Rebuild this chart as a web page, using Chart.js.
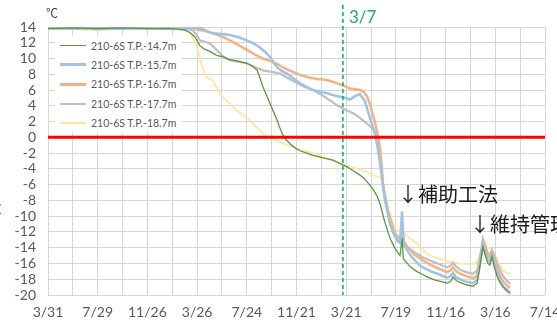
<!DOCTYPE html>
<html>
<head>
<meta charset="utf-8">
<script src="https://cdn.jsdelivr.net/npm/chart.js@4.4.0/dist/chart.umd.min.js"></script>
<style>
  body { margin: 0; background: #fff; }
  #wrap { position: relative; width: 557px; height: 325px; overflow: hidden; }
  #legend {
    position: absolute; left: 55px; top: 36px; width: 127px; height: 96px;
    background: #fff; font: 10.5px Lato, sans-serif; color: #595959;
  }
  #legend .row { display: flex; align-items: center; height: 19.3px; }
  #legend .swatch { width: 26px; margin: 0 5px 0 5px; }
</style>
</head>
<body>
<div id="wrap">
  <canvas id="chart" width="557" height="325"></canvas>
  <div id="legend"></div>
</div>
<script>
// x axis runs in days from 3/31; a label every 120 days, grid every 60
const xTickLabels = ['3/31', '7/29', '11/26', '3/26', '7/24', '11/21', '3/21', '7/19', '11/16', '3/16', '7/14'];
const seriesNames = ['210-6S T.P.-14.7m', '210-6S T.P.-15.7m', '210-6S T.P.-16.7m', '210-6S T.P.-17.7m', '210-6S T.P.-18.7m'];
const seriesColors = ['#5f9440', '#9dc3e6', '#f4b183', '#bfbfbf', '#ffe699'];
const seriesWidths = [1.3, 2.5, 2.5, 2.2, 1.6];

const days147 = [0, 60, 120, 180, 240, 300, 331, 343, 355, 367, 378, 391, 407, 423, 435, 447, 463, 480, 495, 505, 512, 519, 528, 536, 545, 553, 560, 567, 575, 584, 596, 608, 625, 640, 657, 672, 688, 700, 712, 724, 736, 748, 761, 773, 785, 795, 802, 812, 820, 826, 835, 843, 850, 855, 858, 866, 874, 890, 905, 915, 935, 950, 963, 972, 978, 986, 995, 1010, 1026, 1036, 1044, 1050, 1056, 1062, 1067, 1072, 1078, 1084, 1092, 1099, 1108, 1116];
const temp147 = [13.8, 13.9, 13.8, 13.9, 13.8, 13.8, 13.6, 13.3, 12.7, 11.6, 11.2, 10.9, 10.4, 10.2, 9.9, 9.8, 9.6, 9.4, 9.0, 8.5, 7.5, 6.4, 5.3, 4.3, 3.2, 2.2, 1.2, 0.3, -0.3, -0.8, -1.3, -1.7, -2.0, -2.3, -2.5, -2.7, -2.9, -3.2, -3.5, -3.8, -4.2, -4.6, -5.1, -5.8, -6.6, -7.5, -8.5, -10.5, -11.9, -12.8, -13.8, -14.5, -15.0, -12.8, -15.4, -15.9, -16.4, -17.0, -17.4, -17.7, -18.1, -18.3, -18.5, -18.3, -17.7, -18.2, -18.4, -18.7, -18.9, -18.5, -16.0, -13.9, -15.0, -16.0, -16.2, -15.1, -16.5, -17.6, -18.5, -19.0, -19.5, -19.8];

const days157 = [0, 60, 120, 180, 240, 300, 331, 350, 367, 383, 398, 420, 439, 460, 480, 497, 512, 525, 536, 545, 553, 565, 577, 592, 608, 624, 640, 657, 674, 692, 712, 729, 740, 753, 765, 772, 777, 784, 790, 797, 802, 806, 810, 814, 820, 826, 835, 843, 850, 853, 855, 858, 862, 867, 880, 893, 905, 925, 945, 963, 972, 978, 986, 995, 1010, 1026, 1036, 1044, 1050, 1056, 1062, 1067, 1072, 1078, 1084, 1092, 1099, 1108, 1116];
const temp157 = [13.9, 13.8, 13.9, 13.8, 13.9, 13.8, 13.8, 13.9, 13.9, 13.5, 13.2, 13.1, 13.0, 12.7, 12.3, 11.9, 11.4, 10.8, 10.2, 9.5, 8.9, 8.4, 8.1, 7.5, 6.9, 6.4, 6.0, 5.8, 5.6, 5.3, 5.1, 4.8, 5.2, 5.5, 4.6, 3.4, 2.5, 1.4, 0.3, -1.6, -3.4, -5.0, -6.6, -8.0, -9.6, -11.0, -12.3, -13.1, -13.4, -11.0, -9.4, -13.3, -13.9, -14.3, -15.3, -16.0, -16.5, -17.0, -17.4, -17.8, -17.6, -17.2, -17.8, -18.0, -18.3, -18.5, -18.1, -15.8, -13.5, -14.7, -15.6, -15.8, -14.8, -16.2, -17.2, -18.2, -18.9, -19.3, -19.7];

const days167 = [0, 60, 120, 180, 240, 300, 343, 370, 398, 420, 439, 460, 480, 500, 519, 535, 550, 570, 591, 610, 630, 650, 671, 690, 712, 729, 742, 753, 762, 770, 777, 782, 789, 795, 799, 802, 806, 809, 815, 821, 830, 838, 845, 850, 855, 860, 870, 885, 905, 925, 945, 963, 972, 978, 986, 995, 1010, 1026, 1036, 1044, 1050, 1056, 1062, 1067, 1072, 1078, 1084, 1092, 1099, 1108, 1116];
const temp167 = [13.9, 13.9, 13.8, 13.9, 13.9, 13.9, 13.9, 13.6, 13.2, 12.8, 12.3, 11.7, 11.1, 10.5, 10.0, 9.7, 9.4, 8.8, 8.3, 7.9, 7.6, 7.4, 7.3, 7.0, 6.6, 6.2, 6.1, 6.0, 5.8, 5.2, 4.3, 3.3, 2.0, 0.6, -0.5, -1.6, -3.8, -5.9, -7.8, -9.3, -11.0, -12.2, -12.6, -12.8, -11.5, -13.3, -14.0, -14.9, -15.6, -16.2, -16.7, -17.1, -16.9, -16.5, -17.0, -17.3, -17.6, -17.9, -17.5, -15.5, -13.3, -14.2, -15.0, -15.2, -14.5, -15.7, -16.6, -17.6, -18.3, -18.8, -19.1];

const days177 = [0, 60, 120, 180, 240, 300, 331, 350, 358, 367, 380, 391, 405, 420, 439, 460, 480, 500, 519, 540, 560, 580, 601, 620, 640, 660, 681, 700, 722, 739, 760, 780, 790, 797, 802, 806, 809, 816, 826, 835, 845, 850, 855, 860, 867, 885, 905, 925, 945, 963, 972, 978, 986, 995, 1010, 1026, 1036, 1044, 1050, 1056, 1062, 1067, 1072, 1078, 1084, 1092, 1099, 1108, 1116];
const temp177 = [13.8, 13.8, 13.7, 13.8, 13.8, 13.8, 13.8, 13.6, 13.0, 12.3, 12.1, 11.9, 11.2, 10.4, 9.8, 9.6, 9.4, 8.9, 8.5, 8.3, 8.1, 7.5, 6.9, 6.4, 6.0, 5.4, 4.7, 4.0, 3.4, 3.0, 2.2, 1.3, 0.6, 0.0, -2.5, -4.5, -6.3, -8.5, -10.5, -12.0, -13.0, -13.2, -12.0, -13.4, -13.9, -14.6, -15.2, -15.7, -16.1, -16.5, -16.3, -15.9, -16.4, -16.8, -17.1, -17.3, -16.9, -15.0, -12.9, -13.8, -14.7, -14.8, -14.3, -15.0, -15.9, -16.9, -17.6, -18.2, -18.6];

const days187 = [0, 60, 120, 180, 240, 290, 319, 332, 343, 352, 360, 368, 375, 384, 391, 398, 410, 422, 440, 456, 472, 488, 503, 519, 536, 556, 577, 608, 640, 665, 688, 712, 736, 755, 770, 786, 802, 809, 815, 821, 830, 838, 845, 850, 855, 862, 876, 891, 915, 940, 965, 995, 1026, 1036, 1044, 1050, 1056, 1062, 1067, 1072, 1078, 1084, 1092, 1099, 1108, 1116];
const temp187 = [13.9, 13.9, 13.8, 13.9, 13.9, 13.8, 13.7, 13.5, 13.2, 12.4, 11.4, 9.9, 8.5, 7.6, 7.4, 7.2, 6.1, 5.1, 4.2, 3.4, 2.8, 2.2, 1.3, 0.5, 0.0, -0.5, -1.0, -1.5, -2.0, -2.5, -2.9, -3.4, -3.8, -4.1, -4.4, -4.8, -5.1, -6.0, -7.5, -9.0, -10.4, -11.4, -11.8, -12.0, -11.0, -12.3, -12.9, -13.5, -14.8, -15.3, -15.7, -16.0, -16.1, -15.8, -14.5, -12.7, -13.4, -14.0, -14.1, -14.2, -14.8, -15.5, -16.3, -16.9, -17.2, -17.3];

const seriesDays = [days147, days157, days167, days177, days187];
const seriesTemps = [temp147, temp157, temp167, temp177, temp187];

const markerDay = 712;
const markerLabel = '3/7';
const unitLabel = '℃';
const notes = [
  { text: '↓補助工法', day: 845, temp: -7.2, align: 'left' },
  { text: '↓維持管理', day: 1019, temp: -11.0, align: 'left' },
  { text: '工法', day: -112, temp: -8.6, align: 'right' },
];

const datasets = [{
  label: 'zero',
  data: [{ x: 0, y: 0 }, { x: 1200, y: 0 }],
  borderColor: '#ff0000',
  borderWidth: 3,
}];
seriesNames.forEach((name, i) => {
  datasets.push({
    label: name,
    data: seriesDays[i].map((d, j) => ({ x: d, y: seriesTemps[i][j] })),
    borderColor: seriesColors[i],
    borderWidth: seriesWidths[i],
  });
});

const notesPlugin = {
  id: 'notes',
  afterDatasetsDraw(chart) {
    const { ctx, chartArea, scales: { x, y } } = chart;
    const mx = x.getPixelForValue(markerDay);
    ctx.save();
    ctx.strokeStyle = '#00b050';
    ctx.lineWidth = 1.5;
    ctx.setLineDash([4, 3]);
    ctx.beginPath();
    ctx.moveTo(mx, chartArea.top - 22);
    ctx.lineTo(mx, chartArea.bottom);
    ctx.stroke();
    ctx.setLineDash([]);

    ctx.fillStyle = '#1fae55';
    ctx.font = '17px Lato';
    ctx.textAlign = 'left';
    ctx.textBaseline = 'alphabetic';
    ctx.fillText(markerLabel, mx + 6, chartArea.top - 4);

    ctx.fillStyle = '#404040';
    ctx.font = '12px "Noto Sans CJK JP"';
    ctx.fillText(unitLabel, chartArea.left - 2, chartArea.top - 9);

    ctx.fillStyle = '#1a1a1a';
    ctx.font = '20px "Noto Sans CJK JP"';
    ctx.textBaseline = 'middle';
    notes.forEach(n => {
      ctx.textAlign = n.align;
      ctx.fillText(n.text, x.getPixelForValue(n.day), y.getPixelForValue(n.temp));
    });
    ctx.restore();
  }
};

const chart = new Chart(document.getElementById('chart'), {
  type: 'line',
  data: { datasets: datasets },
  options: {
    responsive: false,
    animation: false,
    layout: { padding: { top: 27, right: 12, left: 0, bottom: 0 } },
    elements: {
      point: { radius: 0 },
      line: { tension: 0 }
    },
    plugins: {
      legend: { display: false },
      tooltip: { enabled: false }
    },
    scales: {
      x: {
        type: 'linear',
        min: 0,
        max: 1200,
        afterFit: s => { s.height = 30; s.paddingLeft = 0; s.paddingRight = 0; },
        border: { display: false },
        grid: { color: '#d6d6d6', drawTicks: false },
        ticks: {
          stepSize: 60,
          autoSkip: false,
          maxRotation: 0,
          padding: 9,
          color: '#595959',
          font: { family: 'Lato', size: 14 },
          callback: v => (v % 120 === 0 ? xTickLabels[v / 120] : '')
        }
      },
      y: {
        min: -20,
        max: 14,
        afterFit: s => { s.width = 48; s.paddingTop = 0; s.paddingBottom = 0; },
        border: { display: false },
        grid: { color: '#d6d6d6', drawTicks: false },
        ticks: {
          stepSize: 2,
          autoSkip: false,
          padding: 12,
          color: '#595959',
          font: { family: 'Lato', size: 14 }
        }
      }
    }
  },
  plugins: [notesPlugin]
});

// legend box inside the plot, built from the series definitions
const legend = document.getElementById('legend');
seriesNames.forEach((name, i) => {
  const row = document.createElement('div');
  row.className = 'row';
  const sw = document.createElement('span');
  sw.className = 'swatch';
  sw.style.height = Math.max(1, Math.round(seriesWidths[i])) + 'px';
  sw.style.background = seriesColors[i];
  const txt = document.createElement('span');
  txt.textContent = name;
  row.appendChild(sw);
  row.appendChild(txt);
  legend.appendChild(row);
});
</script>
</body>
</html>
